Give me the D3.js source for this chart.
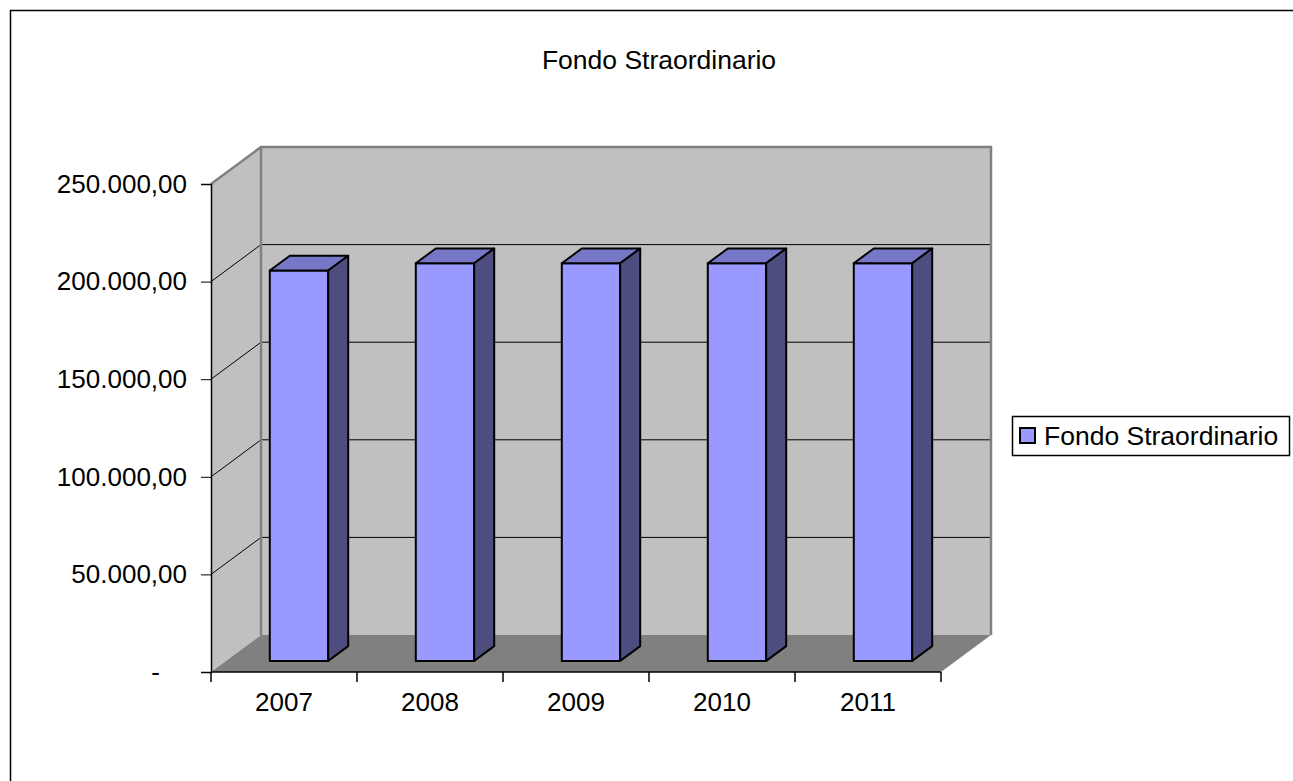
<!DOCTYPE html>
<html>
<head>
<meta charset="utf-8">
<script src="https://cdn.jsdelivr.net/npm/d3@7"></script>
<style>
  body { margin: 0; background: #fff; }
  svg text { font-family: "Liberation Sans", Arial, sans-serif; fill: #000; }
</style>
</head>
<body>
<svg width="1293" height="781"></svg>
<script>
var years = ["2007", "2008", "2009", "2010", "2011"];
var values = [200000, 203700, 203700, 203700, 203700];
var yTicks = [0, 50000, 100000, 150000, 200000, 250000];
var seriesName = "Fondo Straordinario";

var svg = d3.select("svg");

// 3d depth offset of the plot box
var depthX = 50, depthY = -37;

var x = d3.scaleBand().domain(years).range([211, 941]).paddingInner(0.6).paddingOuter(0.3),
    y = d3.scaleLinear().domain([0, 250000]).range([672, 184]);

var x0 = 211, x1 = 941;

function pt(px, py, d) { return [px + depthX * d, py + depthY * d]; }
function poly(points) { return "M" + points.map(function(p) { return p[0] + "," + p[1]; }).join("L") + "Z"; }

// outer border
svg.append("rect")
    .attr("x", 10.5).attr("y", 10.5)
    .attr("width", 1300).attr("height", 800)
    .attr("fill", "#fff")
    .attr("stroke", "#000")
    .attr("stroke-width", 1.5);

// title
svg.append("text")
    .attr("x", 659).attr("y", 69)
    .attr("text-anchor", "middle")
    .style("font-size", "26.5px")
    .text(seriesName);

var yTop = y(250000), yBot = y(0);

// side wall
svg.append("path")
    .attr("d", poly([pt(x0, yTop, 0), pt(x0, yTop, 1), pt(x0, yBot, 1), pt(x0, yBot, 0)]))
    .attr("fill", "#c0c0c0");

// back wall
svg.append("path")
    .attr("d", poly([pt(x0, yTop, 1), pt(x1, yTop, 1), pt(x1, yBot, 1), pt(x0, yBot, 1)]))
    .attr("fill", "#c0c0c0");

// floor
svg.append("path")
    .attr("d", poly([pt(x0, yBot, 0), pt(x0, yBot, 1), pt(x1, yBot, 1), pt(x1, yBot, 0)]))
    .attr("fill", "#808080");

// gridlines on walls
var grid = yTicks.filter(function(v) { return v > 0 && v < 250000; });
grid.forEach(function(v) {
    var a = pt(x0, y(v), 0), b = pt(x0, y(v), 1), c = pt(x1, y(v), 1);
    svg.append("path")
        .attr("d", "M" + a + "L" + b + "L" + c)
        .attr("fill", "none")
        .attr("stroke", "#000")
        .attr("stroke-width", 1);
});

// wall edges
var e1 = pt(x0, yTop, 0), e2 = pt(x0, yTop, 1), e3 = pt(x1, yTop, 1), e4 = pt(x1, yBot, 1), e5 = pt(x0, yBot, 1);
svg.append("path")
    .attr("d", "M" + e1 + "L" + e2 + "L" + e3 + "L" + e4)
    .attr("fill", "none")
    .attr("stroke", "#808080")
    .attr("stroke-width", 2.5);
svg.append("path")
    .attr("d", "M" + e2 + "L" + e5)
    .attr("fill", "none")
    .attr("stroke", "#808080")
    .attr("stroke-width", 2.5);

// bars
var dFront = 0.3, dBack = 0.7;
var bars = svg.append("g").selectAll("g")
    .data(years.map(function(k, i) { return {year: k, value: values[i]}; }))
    .enter().append("g");

bars.append("path")
    .attr("d", function(d) {
        var l = x(d.year), r = x(d.year) + x.bandwidth();
        return poly([pt(l, y(0), dFront), pt(r, y(0), dFront), pt(r, y(d.value), dFront), pt(l, y(d.value), dFront)]);
    })
    .attr("fill", "#9999ff")
    .attr("stroke", "#000")
    .attr("stroke-width", 2)
    .attr("stroke-linejoin", "round");

bars.append("path")
    .attr("d", function(d) {
        var l = x(d.year), r = x(d.year) + x.bandwidth();
        return poly([pt(l, y(d.value), dFront), pt(r, y(d.value), dFront), pt(r, y(d.value), dBack), pt(l, y(d.value), dBack)]);
    })
    .attr("fill", "#7777c8")
    .attr("stroke", "#000")
    .attr("stroke-width", 2)
    .attr("stroke-linejoin", "round");

bars.append("path")
    .attr("d", function(d) {
        var r = x(d.year) + x.bandwidth();
        return poly([pt(r, y(0), dFront), pt(r, y(0), dBack), pt(r, y(d.value), dBack), pt(r, y(d.value), dFront)]);
    })
    .attr("fill", "#4d4d80")
    .attr("stroke", "#000")
    .attr("stroke-width", 2)
    .attr("stroke-linejoin", "round");

// y axis
var fmt = function(v) {
    if (v === 0) return "-";
    return d3.format(",.2f")(v).replace(/,/g, "#").replace(".", ",").replace(/#/g, ".");
};
var yAxis = svg.append("g")
    .attr("transform", "translate(" + x0 + ",0)")
    .call(d3.axisLeft(y).tickValues(yTicks).tickFormat(fmt).tickSize(10).tickPadding(14));
yAxis.select(".domain").attr("stroke", "#000").attr("stroke-width", 1.5);
yAxis.selectAll("text").style("font-size", "26px").attr("fill", "#000");
yAxis.selectAll("text").filter(function(d) { return d === 0; }).attr("dx", -27);

// x axis
var xEdges = d3.range(years.length + 1).map(function(i) { return x0 + i * x.step(); });
svg.append("line")
    .attr("x1", x0).attr("x2", x1)
    .attr("y1", yBot).attr("y2", yBot)
    .attr("stroke", "#000").attr("stroke-width", 1.5);
svg.selectAll(".xtick")
    .data(xEdges)
    .enter().append("line")
    .attr("x1", function(d) { return d; }).attr("x2", function(d) { return d; })
    .attr("y1", yBot).attr("y2", yBot + 10)
    .attr("stroke", "#000").attr("stroke-width", 1.5);
svg.selectAll(".xlabel")
    .data(years)
    .enter().append("text")
    .attr("x", function(d) { return x(d) + x.bandwidth() / 2; })
    .attr("y", 711)
    .attr("text-anchor", "middle")
    .style("font-size", "26px")
    .text(function(d) { return d; });

// legend
var lg = svg.append("g");
lg.append("rect")
    .attr("x", 1012.5).attr("y", 416.5)
    .attr("width", 277).attr("height", 39)
    .attr("fill", "#fff")
    .attr("stroke", "#000")
    .attr("stroke-width", 1.5);
lg.append("rect")
    .attr("x", 1020).attr("y", 428)
    .attr("width", 15).attr("height", 15)
    .attr("fill", "#9999ff")
    .attr("stroke", "#000")
    .attr("stroke-width", 2);
lg.append("text")
    .attr("x", 1044).attr("y", 445)
    .style("font-size", "26.5px")
    .text(seriesName);
</script>
</body>
</html>
